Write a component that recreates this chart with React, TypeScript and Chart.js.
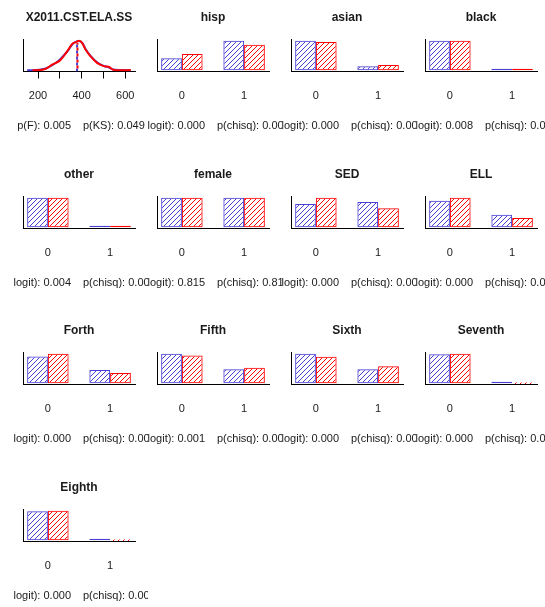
import React, { useEffect, useRef } from 'react';
import { Chart, registerables } from 'chart.js';

Chart.register(...registerables);

// ---------------- data ----------------
// Histogram / density panel
const histTitle = 'X2011.CST.ELA.SS';
const scoreGrid = [150, 175, 205, 235, 267, 297, 320, 342, 358, 373, 388, 403, 418, 441, 471, 501, 524, 545, 577, 626];
const densityBlue = [0, 0, 0.02, 0.06, 0.18, 0.34, 0.52, 0.71, 0.88, 0.96, 0.99, 0.93, 0.72, 0.49, 0.27, 0.15, 0.1, 0.03, 0.01, 0];
const densityRed = [null, 0, 0.01, 0.05, 0.2, 0.31, 0.5, 0.73, 0.9, 0.95, 1.0, 0.92, 0.7, 0.47, 0.25, 0.14, 0.12, 0.02, 0, 0];
const scoreTicks = [200, 300, 400, 500, 600];
const scoreTickLabels = ['200', '', '400', '', '600'];
const meanBlue = 379;
const meanRed = 381;
const meanLineTop = 0.93;
const histStats = ['p(F): 0.005', 'p(KS): 0.049'];

// Bar panels (share of each group at level 0 / 1)
const barVariables = ['hisp', 'asian', 'black', 'other', 'female', 'SED', 'ELL', 'Forth', 'Fifth', 'Sixth', 'Seventh', 'Eighth'];
const barCategories = ['0', '1'];
const blueShare0 = [0.29, 0.88, 0.985, 0.985, 0.5, 0.48, 0.68, 0.67, 0.68, 0.68, 0.985, 0.985];
const blueShare1 = [0.71, 0.12, 0.015, 0.015, 0.5, 0.52, 0.32, 0.33, 0.32, 0.32, 0.015, 0.015];
const redShare0 = [0.39, 0.84, 0.985, 0.985, 0.5, 0.61, 0.76, 0.74, 0.64, 0.61, 1.0, 1.0];
const redShare1 = [0.61, 0.16, 0.015, 0.015, 0.5, 0.39, 0.24, 0.26, 0.36, 0.39, 0, 0];
const pLogit = ['0.000', '0.000', '0.008', '0.004', '0.815', '0.000', '0.000', '0.000', '0.001', '0.000', '0.000', '0.000'];
const pChisq = ['0.000', '0.000', '0.000', '0.000', '0.812', '0.000', '0.000', '0.000', '0.000', '0.000', '0.000', '0.000'];

// bar group centres in barplot coordinates
const groupCenters = [2, 5];

// ---------------- styles ----------------
const FONT = "'Liberation Sans', Arial, Helvetica, sans-serif";
const BLUE = '#4a3fd4';
const RED = '#ff0000';
const TEXT = '#1a1a1a';
const AXIS = '#000000';

const COL_X0 = 14;
const COL_W = 134;
const ROW_TOPS = [0, 157, 313, 470];
const CANVAS_H = 157;

function makeHatch(color: string): CanvasPattern | string {
  const s = 5;
  const c = document.createElement('canvas');
  c.width = s;
  c.height = s;
  const g = c.getContext('2d');
  if (!g) return 'transparent';
  g.strokeStyle = color;
  g.lineWidth = 1;
  g.beginPath();
  g.moveTo(0, s);
  g.lineTo(s, 0);
  g.moveTo(-1, 1);
  g.lineTo(1, -1);
  g.moveTo(s - 1, s + 1);
  g.lineTo(s + 1, s - 1);
  g.stroke();
  const p = g.createPattern(c, 'repeat');
  return p || 'transparent';
}

const statPlugin = {
  id: 'statText',
  afterDraw(chart: any, _args: any, opts: any) {
    const ctx = chart.ctx;
    ctx.save();
    ctx.font = `11px ${FONT}`;
    ctx.fillStyle = TEXT;
    ctx.textBaseline = 'middle';
    ctx.textAlign = 'right';
    ctx.fillText(opts.left, 57, opts.y);
    ctx.textAlign = 'left';
    ctx.fillText(opts.right, 69, opts.y);
    ctx.restore();
  },
};

const LABEL_OFFSET = 17.4; // distance from axis line to top of tick label
const AXIS_H = 40;
const TITLE_PAD = { top: 10.3, bottom: 14.8 };
const LAYOUT_PAD = { top: 0, left: 9, right: 13, bottom: 45.5 };
const STAT_Y = 125.5;

function titleOpts(text: string) {
  return {
    display: true,
    text,
    fullSize: false,
    color: TEXT,
    font: { family: FONT, size: 12, weight: 'bold' as const },
    padding: TITLE_PAD,
  };
}

const fixHeight = (axis: any) => {
  axis.height = AXIS_H;
};

function histConfig(): any {
  const lo = Math.min(...scoreGrid);
  const hi = Math.max(...scoreGrid);
  const ext = (hi - lo) * 0.04;
  const yMax = Math.max(...densityBlue, ...(densityRed.filter((v) => v !== null) as number[]));
  const yMin = -0.04 * yMax;
  const pts = (ys: (number | null)[]) =>
    scoreGrid.map((x, i) => ({ x, y: ys[i] })).filter((p) => p.y !== null);
  return {
    type: 'line',
    data: {
      datasets: [
        {
          data: [{ x: meanRed, y: yMin }, { x: meanRed, y: meanLineTop }],
          borderColor: RED,
          borderWidth: 2,
          borderDash: [3, 3],
          borderDashOffset: 3,
          pointRadius: 0,
        },
        {
          data: [{ x: meanBlue, y: yMin }, { x: meanBlue, y: meanLineTop }],
          borderColor: BLUE,
          borderWidth: 2,
          borderDash: [3, 3],
          pointRadius: 0,
        },
        { data: pts(densityRed), borderColor: RED, borderWidth: 2, pointRadius: 0, tension: 0.35 },
        { data: pts(densityBlue), borderColor: BLUE, borderWidth: 2, pointRadius: 0, tension: 0.35 },
      ],
    },
    options: {
      animation: false,
      responsive: false,
      events: [],
      layout: { padding: LAYOUT_PAD },
      plugins: {
        legend: { display: false },
        tooltip: { enabled: false },
        title: titleOpts(histTitle),
        statText: { left: histStats[0], right: histStats[1], y: STAT_Y },
      },
      scales: {
        x: {
          type: 'linear',
          min: lo - ext,
          max: hi + ext,
          offset: false,
          grid: { display: true, drawOnChartArea: false, drawTicks: true, tickLength: 7, color: AXIS, lineWidth: 1 },
          border: { display: true, color: AXIS, width: 1 },
          afterBuildTicks: (axis: any) => {
            axis.ticks = scoreTicks.map((v) => ({ value: v }));
          },
          afterFit: fixHeight,
          ticks: {
            autoSkip: false,
            maxRotation: 0,
            padding: LABEL_OFFSET - 7,
            color: TEXT,
            font: { family: FONT, size: 11 },
            callback: (_v: any, i: number) => scoreTickLabels[i],
          },
        },
        y: {
          type: 'linear',
          min: yMin,
          max: yMax * 1.04,
          grid: { display: false, drawTicks: false },
          border: { display: true, color: AXIS, width: 1 },
          ticks: { display: false },
        },
      },
    },
    plugins: [statPlugin],
  };
}

function barConfig(k: number): any {
  const blue = [blueShare0[k], blueShare1[k]];
  const red = [redShare0[k], redShare1[k]];
  const m = Math.max(...blue, ...red);
  const borderW = (ctx: any) => (ctx.raw && ctx.raw.y > 0 ? 1 : 0);
  const common = {
    borderSkipped: false,
    minBarLength: 1.5,
    categoryPercentage: 2 / 3,
    barPercentage: 1,
    borderWidth: borderW,
  };
  const lo = groupCenters[0] - 1;
  const hi = groupCenters[1] + 1;
  const ext = (hi - lo) * 0.04;
  return {
    type: 'bar',
    data: {
      datasets: [
        {
          ...common,
          data: groupCenters.map((x, i) => ({ x, y: blue[i] })),
          backgroundColor: makeHatch(BLUE),
          borderColor: BLUE,
        },
        {
          ...common,
          data: groupCenters.map((x, i) => ({ x, y: red[i] })),
          backgroundColor: makeHatch(RED),
          borderColor: RED,
        },
      ],
    },
    options: {
      animation: false,
      responsive: false,
      events: [],
      layout: { padding: LAYOUT_PAD },
      plugins: {
        legend: { display: false },
        tooltip: { enabled: false },
        title: titleOpts(barVariables[k]),
        statText: { left: `p(logit): ${pLogit[k]}`, right: `p(chisq): ${pChisq[k]}`, y: STAT_Y },
      },
      scales: {
        x: {
          type: 'linear',
          min: lo - ext,
          max: hi + ext,
          offset: false,
          grid: { display: false, drawTicks: false },
          border: { display: true, color: AXIS, width: 1 },
          afterBuildTicks: (axis: any) => {
            axis.ticks = groupCenters.map((v) => ({ value: v }));
          },
          afterFit: fixHeight,
          ticks: {
            autoSkip: false,
            maxRotation: 0,
            padding: LABEL_OFFSET,
            color: TEXT,
            font: { family: FONT, size: 11 },
            callback: (_v: any, i: number) => barCategories[i],
          },
        },
        y: {
          type: 'linear',
          min: -0.04 * m,
          max: 1.04 * m,
          grid: { display: false, drawTicks: false },
          border: { display: true, color: AXIS, width: 1 },
          ticks: { display: false },
        },
      },
    },
    plugins: [statPlugin],
  };
}

function Panel({ index }: { index: number }) {
  const ref = useRef<HTMLCanvasElement | null>(null);
  useEffect(() => {
    if (!ref.current) return;
    const cfg = index === 0 ? histConfig() : barConfig(index - 1);
    const chart = new Chart(ref.current, cfg);
    return () => chart.destroy();
  }, [index]);
  const row = Math.floor(index / 4);
  const col = index % 4;
  return (
    <canvas
      ref={ref}
      width={COL_W}
      height={CANVAS_H}
      style={{
        position: 'absolute',
        left: COL_X0 + COL_W * col,
        top: ROW_TOPS[row],
        width: COL_W,
        height: CANVAS_H,
      }}
    />
  );
}

export default function App() {
  const count = 1 + barVariables.length;
  return (
    <div
      style={{
        position: 'fixed',
        left: 0,
        top: 0,
        width: 545,
        height: 607,
        overflow: 'hidden',
        background: '#ffffff',
      }}
    >
      {Array.from({ length: count }, (_, i) => (
        <Panel key={i} index={i} />
      ))}
    </div>
  );
}
